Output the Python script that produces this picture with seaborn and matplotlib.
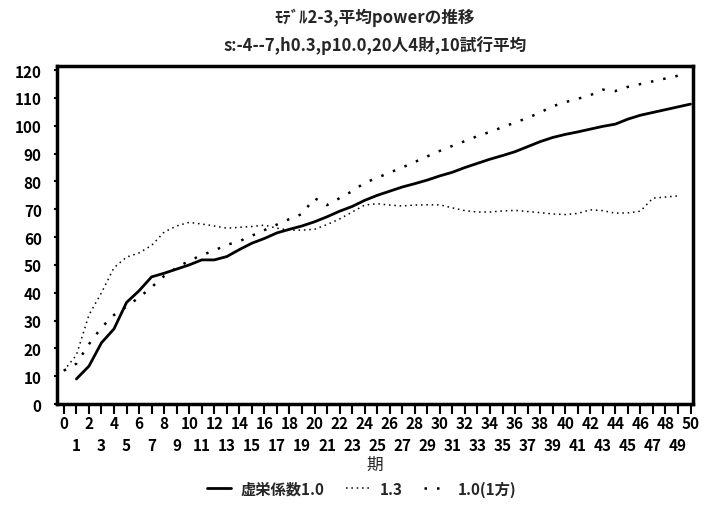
import matplotlib
matplotlib.use("Agg")
import matplotlib.pyplot as plt
import seaborn as sns
import pandas as pd

# ---- data ----
periods_a = list(range(1, 51))
vanity_10 = [9, 13.6, 22, 27, 36.5, 40.7, 45.7, 47, 48.5, 50,
             51.8, 51.8, 53, 55.5, 57.8, 59.5, 61.5, 62.8, 64, 65.5,
             67.3, 69.3, 71, 73.2, 75, 76.5, 78, 79.2, 80.5, 82,
             83.3, 85, 86.5, 88, 89.3, 90.7, 92.5, 94.3, 95.8, 96.9,
             97.8, 98.8, 99.8, 100.6, 102.4, 103.8, 104.8, 105.8, 106.8, 107.8]

periods_b = list(range(0, 50))
vanity_13 = [12, 17.6, 32, 40, 49, 52.8, 54.3, 57, 61.8, 64,
             65.3, 64.7, 64, 63.2, 63.5, 63.8, 64.3, 63.2, 62.5, 62.5,
             62.8, 64.5, 66.5, 69, 71.5, 72, 71.5, 71.2, 71.5, 71.6,
             71.6, 70.5, 69.5, 69, 69, 69.4, 69.6, 69.2, 68.8, 68.3,
             68.1, 68.5, 69.8, 69.5, 68.6, 68.7, 69.3, 74, 74.4, 74.8]
vanity_10_one = [12, 14.5, 21.5, 27.5, 32, 35, 38.3, 42, 46, 49,
                 51.5, 53.5, 55.2, 57.2, 58.5, 60.5, 62.5, 64.5, 66.5, 68.3,
                 74, 71.5, 74, 76.5, 79.5, 81.3, 83.2, 85, 87, 89,
                 91, 92.8, 94.5, 96.3, 97.8, 99.5, 101.2, 102.8, 104.8, 107,
                 108.5, 109.7, 111, 113, 112.5, 114, 115, 116, 117, 118]

labels = ["虚栄係数1.0", "1.3", "1.0(1方)"]
title_lines = ["ﾓﾃﾞﾙ2-3,平均powerの推移", "s:-4--7,h0.3,p10.0,20人4財,10試行平均"]
x_label = "期"
y_ticks = list(range(0, 121, 10))
x_ticks_even = list(range(0, 51, 2))
x_ticks_odd = list(range(1, 50, 2))

sns.set_theme(style="white")
plt.rcParams['font.family'] = ['Noto Sans CJK JP', 'DejaVu Sans']
plt.rcParams['font.weight'] = 'bold'

fig = plt.figure(figsize=(7.06, 5.06), dpi=100)
ax = fig.add_axes([0.0807, 0.1996, 0.9009, 0.668])

df_a = pd.DataFrame({"x": periods_a, "y": vanity_10})
df_b = pd.DataFrame({"x": periods_b, "y": vanity_13})
df_c = pd.DataFrame({"x": periods_b, "y": vanity_10_one})

sns.lineplot(data=df_a, x="x", y="y", ax=ax, color="black", lw=2.0,
             label=labels[0])
sns.lineplot(data=df_b, x="x", y="y", ax=ax, color="black", lw=1.1,
             linestyle=(0, (1, 2.5)), label=labels[1])
sns.lineplot(data=df_c, x="x", y="y", ax=ax, color="black", lw=1.8,
             linestyle=(0, (1, 4)), label=labels[2])

ax.set_xlim(-0.55, 50.2)
ax.set_ylim(0, 121.5)
ax.set_yticks(y_ticks)
ax.set_yticklabels([str(v) for v in y_ticks], fontsize=11)
ax.set_xticks(x_ticks_even)
ax.set_xticklabels([str(i) for i in x_ticks_even], fontsize=11)
ax.set_xticks(x_ticks_odd, minor=True)
ax.set_xticklabels([str(i) for i in x_ticks_odd], minor=True, fontsize=11)
ax.tick_params(axis='x', which='major', direction='out', length=7, width=1.5,
               pad=1, colors='black', bottom=True)
ax.tick_params(axis='x', which='minor', direction='out', length=7, width=1.5,
               pad=17, colors='black', bottom=True, labelbottom=True)
ax.tick_params(axis='y', direction='out', length=2, width=1.5, pad=9,
               colors='black', left=True)
ax.set_xlabel(x_label, fontsize=12, labelpad=2)
ax.set_ylabel("")
for s in ax.spines.values():
    s.set_visible(True)
    s.set_color("black")
    s.set_linewidth(2.5)

ax.get_legend().remove()
handles, labs = ax.get_legend_handles_labels()
fig.legend(handles, labs, loc="center", bbox_to_anchor=(0.512, 0.032), ncol=3,
           frameon=False, fontsize=11, handlelength=1.6, handletextpad=0.6,
           columnspacing=1.4)

fig.text(0.531, 0.965, title_lines[0], ha="center", va="center", fontsize=12)
fig.text(0.531, 0.91, title_lines[1], ha="center", va="center", fontsize=12)

fig.savefig("out.png", dpi=100, facecolor="white")
